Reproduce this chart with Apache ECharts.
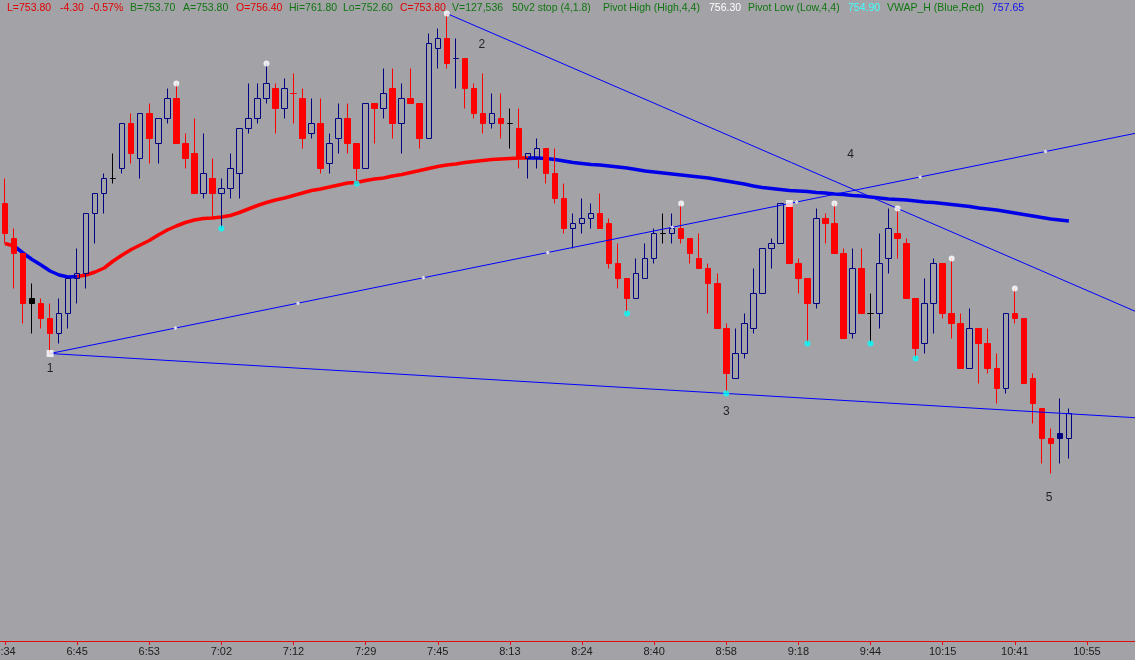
<!DOCTYPE html>
<html>
<head>
<meta charset="utf-8">
<script src="https://cdn.jsdelivr.net/npm/echarts@6/dist/echarts.min.js"></script>
<style>
html,body{margin:0;padding:0;background:#a3a3a7;}
#chart{width:1135px;height:660px;}
</style>
</head>
<body>
<div id="chart"></div>
<script>
// ---------------- DATA ----------------
const tickLabels = ['6:34','6:45','6:53','7:02','7:12','7:29','7:45','8:13','8:24','8:40','8:58','9:18','9:44','10:15','10:41','10:55'];

const opens = [758.0,757.3,757.0,756.1,756.0,755.7,755.4,755.8,756.5,756.6,
757.8,758.2,758.5,758.7,759.6,758.9,759.8,759.2,759.7,760.1,
759.2,759.0,758.2,758.5,758.2,758.3,758.6,759.5,759.7,760.1,
760.3,759.9,760.2,760.1,759.4,759.6,758.8,759.3,759.7,759.2,
758.7,760.0,759.9,760.3,759.6,760.1,760.0,759.3,761.1,761.3,
760.9,760.9,760.3,759.8,759.6,759.7,759.6,759.5,758.9,758.9,
759.1,758.6,758.1,757.5,757.6,757.7,757.8,757.6,756.8,756.5,
756.1,756.5,756.9,757.4,757.4,757.5,757.3,756.9,756.7,756.4,
755.5,754.5,755.0,755.5,756.2,757.1,757.2,758.0,756.8,756.5,
756.0,757.7,757.6,757.0,755.4,756.7,755.8,755.8,756.9,757.4,
757.2,756.1,755.2,756.0,756.8,755.8,755.6,754.7,755.5,755.2,
754.7,754.3,755.8,755.7,754.5,753.9,753.3,753.3,753.3];

const closes = [757.4,757.0,756.0,756.0,755.7,755.4,755.8,756.5,756.6,757.8,
758.2,758.5,758.5,759.6,759.0,759.8,759.3,759.7,760.1,759.2,
758.9,758.2,758.6,758.2,758.3,758.7,759.5,759.7,760.1,760.4,
759.9,760.3,760.2,759.3,759.6,758.7,759.2,759.7,759.2,758.7,
760.0,759.9,760.2,759.6,760.1,760.0,759.3,761.2,761.3,760.8,
760.9,760.3,759.8,759.6,759.8,759.6,759.6,758.9,759.0,759.1,
758.6,758.1,757.5,757.6,757.7,757.8,757.5,756.8,756.5,756.1,
756.6,756.9,757.4,757.4,757.5,757.3,757.0,756.7,756.4,755.5,
754.6,755.0,755.6,756.2,757.1,757.2,758.0,756.8,756.5,756.0,
757.7,757.6,757.0,755.3,756.7,755.8,755.8,756.8,757.5,757.3,
756.1,755.1,756.0,756.8,755.8,755.6,754.7,755.5,755.2,754.7,
754.3,755.8,755.7,754.4,754.0,753.3,753.2,753.4,753.8];

const lows = [757.2,756.3,755.6,755.4,755.5,755.0,755.2,755.5,756.0,756.3,
757.2,757.8,758.4,758.6,758.8,758.5,758.8,758.8,759.6,759.2,
758.7,758.2,758.1,757.7,757.5,758.1,758.1,759.4,759.6,760.0,
759.4,759.7,759.6,759.1,759.3,758.6,758.6,759.0,759.0,758.4,
758.7,759.2,759.7,759.3,759.0,760.0,759.1,759.3,760.7,760.7,
760.3,759.9,759.7,759.4,759.5,759.3,759.1,758.7,758.5,758.7,
758.4,758.0,757.4,757.1,757.4,757.5,757.5,756.7,756.3,755.8,
756.1,756.5,756.8,757.2,757.2,757.2,756.8,756.7,755.8,755.5,
754.2,754.5,754.9,755.4,756.2,756.7,757.2,756.8,756.2,755.2,
755.9,757.2,757.0,755.3,755.3,755.8,755.2,755.5,756.6,756.9,
756.1,754.9,755.0,755.4,755.7,755.3,754.7,754.7,754.4,754.6,
754.0,754.2,755.6,754.4,753.6,752.8,752.6,752.8,752.9];

const highs = [758.5,757.5,757.0,756.4,756.1,756.0,756.1,756.5,757.1,757.8,
758.2,758.6,759.0,759.6,759.8,759.8,760.0,759.7,760.3,760.4,
759.4,759.7,759.4,758.9,758.5,759.0,759.5,760.4,760.4,760.8,
760.4,760.5,760.6,760.3,760.1,760.1,759.4,760.0,760.0,759.2,
760.0,760.0,760.7,760.7,760.4,760.7,760.0,761.4,761.5,761.8,
761.3,760.9,760.4,760.6,760.2,760.2,759.9,759.9,759.0,759.3,
759.1,759.1,758.4,757.8,758.1,758.0,758.2,757.7,757.2,756.5,
756.9,757.2,757.5,757.8,757.8,758.0,757.3,757.4,756.8,756.6,
755.6,755.5,755.8,756.7,757.1,757.3,758.0,758.0,756.9,756.5,
757.9,757.8,758.0,757.1,757.1,757.1,756.2,757.4,757.9,757.9,
757.3,756.1,756.5,756.9,756.8,756.9,755.8,755.9,755.5,755.5,
755.0,755.8,756.3,755.7,754.6,753.9,753.5,754.1,753.9];

// VWAP_H line, one value per bar
const vwap = [757.20,757.15,757.01,756.88,756.77,756.65,756.57,756.53,756.54,756.57,
756.63,756.71,756.85,756.97,757.08,757.17,757.26,757.37,757.47,757.55,
757.62,757.67,757.70,757.71,757.73,757.76,757.82,757.89,757.96,758.02,
758.07,758.11,758.16,758.21,758.26,758.29,758.33,758.37,758.41,758.42,
758.46,758.49,758.51,758.55,758.58,758.62,758.66,758.70,758.74,758.77,
758.79,758.82,758.84,758.86,758.88,758.89,758.90,758.91,758.91,758.91,
758.90,758.88,758.85,758.82,758.80,758.78,758.77,758.75,758.73,758.71,
758.68,758.65,758.63,758.61,758.59,758.57,758.55,758.53,758.51,758.48,
758.45,758.42,758.39,758.35,758.32,758.30,758.28,758.26,758.25,758.24,
758.22,758.21,758.19,758.18,758.16,758.15,758.13,758.11,758.09,758.08,
758.07,758.05,758.03,758.02,758.00,757.98,757.96,757.94,757.91,757.89,
757.87,757.84,757.81,757.78,757.75,757.72,757.69,757.67,757.65];

// colour state of VWAP_H (Blue,Red): 'up' = red, 'down' = blue
const vwapSegments = [
  {from: 0, to: 1, side: 'up'},
  {from: 1, to: 8, side: 'down'},
  {from: 8, to: 58, side: 'up'},
  {from: 58, to: 118, side: 'down'}
];

const blackBars = [3, 12, 56, 73, 96];   // neutral bars drawn black
const filledBars = [117];                // last-trade bar, solid navy

const pivotHighBars = [19, 29, 49, 75, 92, 99, 105, 112];
const pivotLowBars = [24, 39, 69, 80, 89, 96, 101];

// wedge trend lines: [bar, 'low'|'high'] start -> [bar, 'low'|'high'] through point
const trendLines = [
  [[5, 'low'], [80, 'low']],
  [[5, 'low'], [87, 'high']],
  [[49, 'high'], [99, 'high']]
];
const wedgeCorners = [[5, 'low'], [87, 'high']];
const lineDots = [18.9, 32.5, 46.4, 60.2, 74.0, 87.8, 101.5, 115.4]; // dots along the rising line

const waveLabels = [['1', 5, 754.69], ['2', 52.9, 761.17], ['3', 80, 753.83], ['4', 93.8, 758.97], ['5', 115.8, 752.11]];

const headerItems = [
  ['L=753.80', 'red'], ['-4.30', 'red'], ['-0.57%', 'red'], ['B=753.70', 'green'], ['A=753.80', 'green'],
  ['O=756.40', 'red'], ['Hi=761.80', 'green'], ['Lo=752.60', 'green'], ['C=753.80', 'red'],
  ['V=127,536', 'green'], ['50v2 stop (4,1.8)', 'green'], ['Pivot High (High,4,4)', 'green'], ['756.30', 'white'],
  ['Pivot Low (Low,4,4)', 'green'], ['754.90', 'cyan'], ['VWAP_H (Blue,Red)', 'green'], ['757.65', 'blue']
];

// ---------------- BUILD ----------------
const N_CAT = 126;
const categories = Array.from({length: N_CAT}, (_, i) =>
  (i % 8 === 0 && tickLabels[i / 8]) ? tickLabels[i / 8] : String(i));

const NAVY = '#000080', RED = '#ff0000', BLUE = '#0000ff';

const candleData = opens.map((o, i) => {
  const item = {value: [o, closes[i], lows[i], highs[i]]};
  if (blackBars.includes(i)) item.itemStyle = {color: '#000', color0: '#000', borderColor: '#000', borderColor0: '#000'};
  if (filledBars.includes(i)) item.itemStyle = {color: NAVY, color0: NAVY, borderColor: NAVY, borderColor0: NAVY};
  return item;
});

function vwapSide(side) {
  return vwap.map((v, i) => vwapSegments.some(s => s.side === side && i >= s.from && i <= s.to) ? v : null);
}
function pt(ref) { return [ref[0], ref[1] === 'low' ? lows[ref[0]] : highs[ref[0]]]; }
const X_END = N_CAT - 0.5;
function lineThrough(a, b) {
  const k = (b[1] - a[1]) / (b[0] - a[0]);
  return [[a[0], a[1]], [X_END, a[1] + k * (X_END - a[0])]];
}
const trendData = trendLines.map(t => lineThrough(pt(t[0]), pt(t[1])));
const riseA = pt(trendLines[1][0]), riseB = pt(trendLines[1][1]);
const riseK = (riseB[1] - riseA[1]) / (riseB[0] - riseA[0]);
const dotData = lineDots.map(x => [x, riseA[1] + riseK * (x - riseA[0])]);

const colorMap = {red: '#e00000', green: '#107510', white: '#ffffff', cyan: '#40ffff', blue: '#1010f0'};
const headerX = [7, 60, 90, 130, 183, 236, 289, 343, 400, 452, 512, 603, 709, 748, 848, 887, 992];

const chart = echarts.init(document.getElementById('chart'), null, {renderer: 'canvas'});
const option = {
  backgroundColor: '#a3a3a7',
  animation: false,
  grid: {left: 0.5, top: 0, width: 1136, height: 641, containLabel: false, outerBoundsMode: 'none'},
  xAxis: [{
    type: 'category', data: categories, boundaryGap: true,
    axisLine: {show: true, lineStyle: {color: '#e01010', width: 1}},
    axisTick: {show: true, interval: 7, alignWithLabel: true, length: 4, lineStyle: {color: '#e01010'}},
    axisLabel: {interval: 7, color: '#202020', fontSize: 11, fontFamily: 'Liberation Sans', margin: 5},
    splitLine: {show: false}
  }, {
    type: 'value', min: -0.5, max: X_END, show: false, gridIndex: 0
  }],
  yAxis: {type: 'value', min: 749.25, max: 762.07, show: false, splitLine: {show: false}},
  series: [
    {type: 'line', name: 'vwapUp', data: vwapSide('up'), symbol: 'none', connectNulls: false,
     lineStyle: {color: RED, width: 3.5}, z: 2, silent: true},
    {type: 'line', name: 'vwapDown', data: vwapSide('down'), symbol: 'none', connectNulls: false,
     lineStyle: {color: '#0000e8', width: 3.5}, z: 2, silent: true},
    {type: 'candlestick', data: candleData, barWidth: 6, z: 3,
     itemStyle: {color: 'rgba(0,0,0,0)', color0: RED, borderColor: NAVY, borderColor0: RED, borderWidth: 1}},
    ...trendData.map(d => ({type: 'line', xAxisIndex: 1, data: d, symbol: 'none',
      lineStyle: {color: BLUE, width: 1}, z: 4, silent: true})),
    {type: 'scatter', xAxisIndex: 1, data: dotData, symbol: 'diamond', symbolSize: 4,
     itemStyle: {color: '#ffffff'}, z: 5},
    {type: 'scatter', xAxisIndex: 1, data: wedgeCorners.map(pt), symbol: 'rect', symbolSize: 7,
     itemStyle: {color: '#ffffff'}, z: 6},
    {type: 'scatter', xAxisIndex: 1, data: pivotHighBars.map(i => [i, highs[i]]), symbol: 'circle', symbolSize: 6,
     itemStyle: {color: '#ffffff'}, z: 6},
    {type: 'scatter', xAxisIndex: 1, data: pivotLowBars.map(i => [i, lows[i]]), symbol: 'circle', symbolSize: 6,
     itemStyle: {color: '#00ffff'}, z: 6},
    {type: 'scatter', xAxisIndex: 1, data: waveLabels.map(w => ({name: w[0], value: [w[1], w[2]]})),
     symbolSize: 1, itemStyle: {color: 'rgba(0,0,0,0)'}, z: 7,
     label: {show: true, position: 'inside', formatter: '{b}', color: '#000000', fontSize: 12, fontFamily: 'Liberation Sans'}}
  ],
  graphic: headerItems.map((h, k) => ({
    type: 'text', x: headerX[k], y: 8, silent: true,
    style: {text: h[0], fill: colorMap[h[1]], fontSize: 10.5, fontFamily: 'Liberation Sans', verticalAlign: 'middle', align: 'left'}
  }))
};
chart.setOption(option);
</script>
</body>
</html>
